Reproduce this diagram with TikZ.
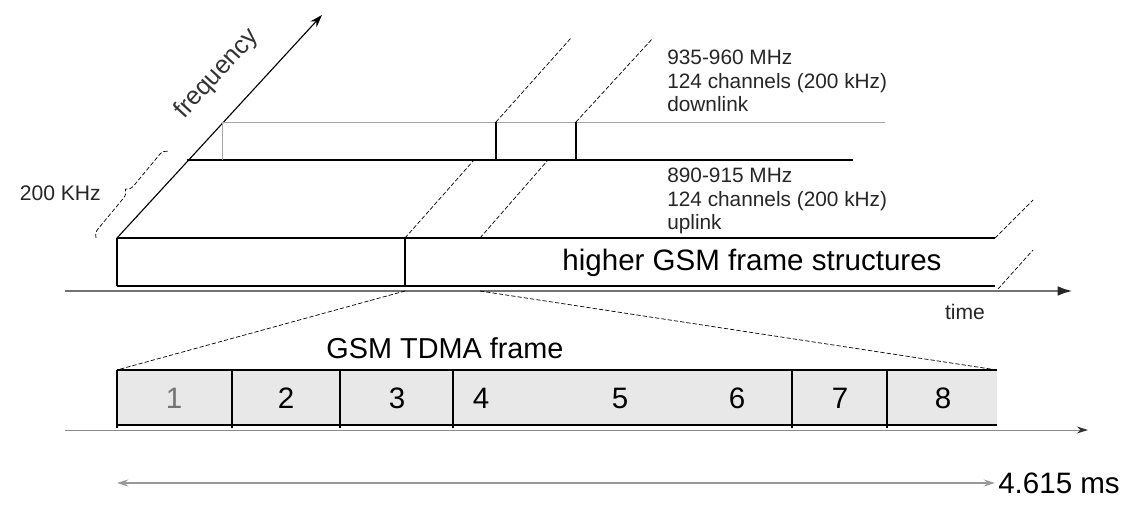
\documentclass[tikz,border=0pt]{standalone}
\usepackage{fontspec}
\setmainfont{Liberation Sans}
\usetikzlibrary{arrows.meta,decorations.pathreplacing}

\begin{document}
\begin{tikzpicture}[x=0.025cm, y=-0.025cm,
    line/.style={line width=0.8pt},
    thin line/.style={line width=0.5pt, black!35},
    cut/.style={line width=0.5pt, dash pattern=on 3pt off 1.5pt},
    txt/.style={inner sep=0pt, font=\fontsize{14.8}{16.8}\selectfont, align=left, text=black!85},
    big/.style={inner sep=0pt, font=\fontsize{21}{25}\selectfont},
    num/.style={inner sep=0pt, font=\fontsize{21}{24}\selectfont}]

    \useasboundingbox (0,0) rectangle (1130,523);

    % frequency axis
    \coordinate (f-0) at (117,238);
    \coordinate (f-1) at (322,15);
    \draw[line, -{Stealth[length=9pt,width=6pt]}] (f-0) -- (f-1);
    \node (freq) at (217,74) [rotate=47.5, inner sep=0pt, font=\fontsize{18}{20}\selectfont, text=black!80] {frequency};

    % channel width
    \coordinate (b-0) at (96,238);
    \coordinate (b-1) at (168,151);
    \draw[cut, decorate, decoration={brace, amplitude=6pt}] (b-0) -- (b-1);
    \node (bw) at (101,193) [anchor=east, txt, font=\fontsize{15}{17}\selectfont] {200 KHz};

    % downlink band
    \coordinate (d-1) at (187,160);
    \coordinate (d-2) at (853,160);
    \coordinate (g-1) at (222,122);
    \coordinate (g-2) at (885,122);
    \coordinate (g-3) at (222,160);
    \draw[line] (d-1) -- (d-2);
    \draw[thin line] (g-1) -- (g-2);
    \draw[thin line] (g-1) -- (g-3);

    \coordinate (c-1) at (496,122);
    \coordinate (c-2) at (496,160);
    \coordinate (c-3) at (571,38);
    \coordinate (c-4) at (576,122);
    \coordinate (c-5) at (576,160);
    \coordinate (c-6) at (653,38);
    \draw[line] (c-1) -- (c-2);
    \draw[line] (c-4) -- (c-5);
    \draw[cut] (c-1) -- (c-3);
    \draw[cut] (c-4) -- (c-6);

    \node (down) at (667,81) [anchor=west, txt] {935-960 MHz\\124 channels (200 kHz)\\downlink};

    % uplink band
    \coordinate (u-1) at (117,286);
    \coordinate (u-2) at (995,238);
    \coordinate (u-3) at (995,286);
    \coordinate (u-4) at (405,238);
    \coordinate (u-5) at (405,286);
    \coordinate (u-6) at (480,238);
    \draw[line] (f-0) -- (u-2);
    \draw[line] (u-1) -- (u-3);
    \draw[line] (f-0) -- (u-1);
    \draw[line] (u-4) -- (u-5);

    \coordinate (e-1) at (474,160);
    \coordinate (e-2) at (548,160);
    \coordinate (e-3) at (1033,200);
    \coordinate (e-4) at (998,289);
    \coordinate (e-5) at (1033,250);
    \draw[cut] (u-4) -- (e-1);
    \draw[cut] (u-6) -- (e-2);
    \draw[cut] (u-2) -- (e-3);
    \draw[cut] (e-4) -- (e-5);

    \node (up) at (667,201) [anchor=west, txt] {890-915 MHz\\124 channels (200 kHz)\\uplink};
    \node (higher) at (752,263) [big] {higher GSM frame structures};

    % time axis
    \coordinate (t-0) at (65,291);
    \coordinate (t-1) at (1073,291);
    \draw[line width=2pt, black!55, -{Latex[length=11pt,width=7pt,black!85]}] (t-0) -- (t-1);
    \node (time) at (965,312) [txt, font=\fontsize{15}{17}\selectfont] {time};

    % TDMA frame
    \coordinate (s-0) at (117,370);
    \coordinate (s-9) at (997,425);
    \fill[black!9] (s-0) rectangle (s-9);
    \coordinate (s-1) at (997,370);
    \coordinate (s-2) at (117,425);
    \draw[line] (s-0) -- (s-1);
    \draw[line] (s-2) -- (s-9);
    \foreach \x in {117, 232, 340, 453, 792, 887}
        \draw[line] (\x,370) -- (\x,428);

    \node (n-1) at (174,398) [num, text=black!55] {1};
    \node (n-2) at (286,398) [num] {2};
    \node (n-3) at (397,398) [num] {3};
    \node (n-4) at (481,398) [num] {4};
    \node (n-5) at (620,398) [num] {5};
    \node (n-6) at (737,398) [num] {6};
    \node (n-7) at (840,398) [num] {7};
    \node (n-8) at (943,398) [num] {8};

    \draw[cut] (u-5) ++(0,5) coordinate (z-1) -- (s-0);
    \coordinate (z-2) at (480,291);
    \draw[cut] (z-2) -- (s-1);
    \node (tdma) at (445,348) [big, font=\fontsize{20.5}{24}\selectfont] {GSM TDMA frame};

    \coordinate (a-0) at (65,430);
    \coordinate (a-1) at (1088,430);
    \draw[line width=0.6pt, black!45, -{Stealth[length=8pt,width=5pt,black!80]}] (a-0) -- (a-1);

    \coordinate (m-0) at (117,483);
    \coordinate (m-1) at (995,483);
    \draw[line width=1pt, black!40, {Stealth[length=8pt,width=5pt]}-{Stealth[length=8pt,width=5pt]}] (m-0) -- (m-1);
    \node (dur) at (998,483) [anchor=west, inner sep=0pt, font=\fontsize{21}{24}\selectfont] {4.615 ms};

\end{tikzpicture}
\end{document}
